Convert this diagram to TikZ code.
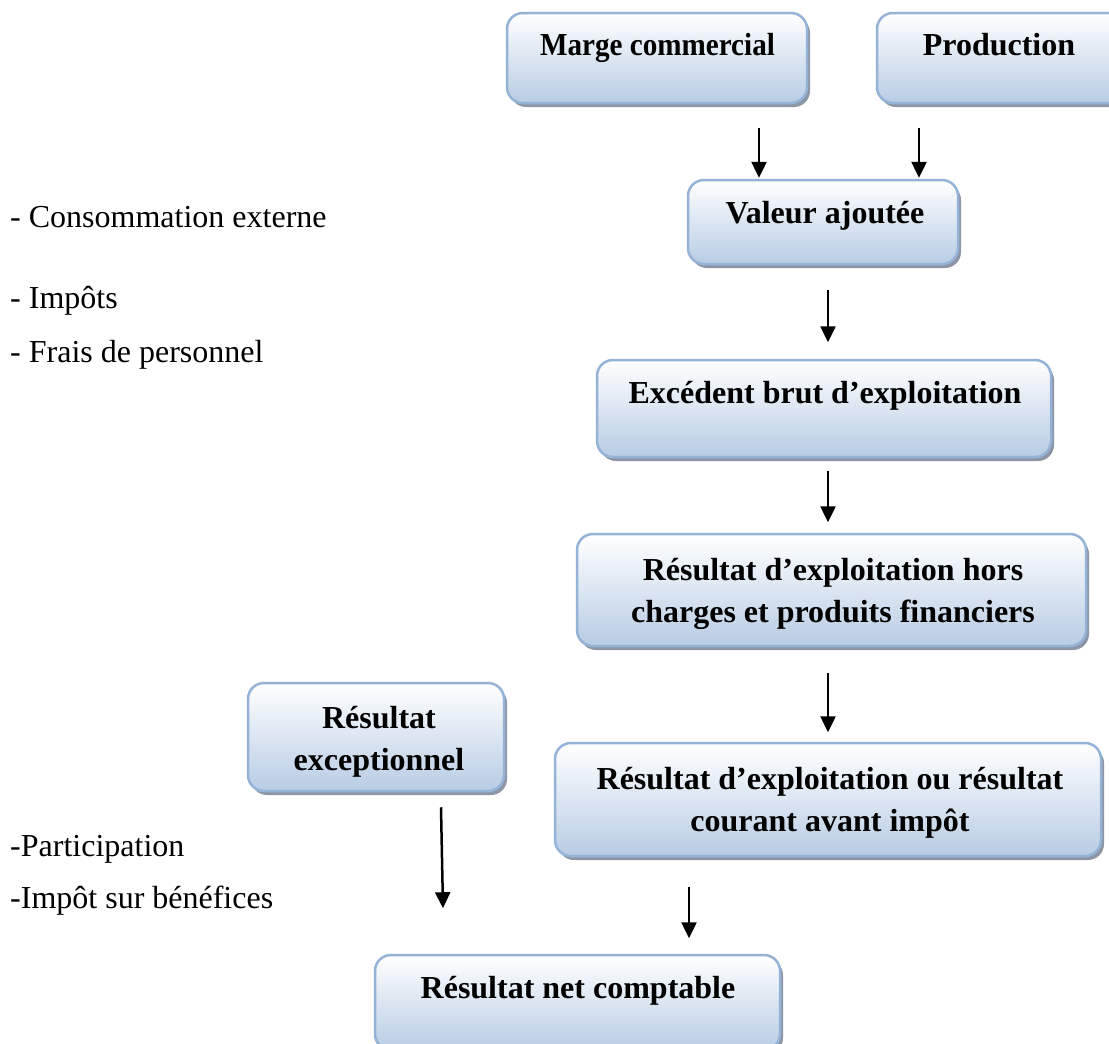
\documentclass[tikz,border=0pt]{standalone}
\usepackage{fontspec}
\setmainfont{Liberation Serif}
\usepackage{xcolor}
\usepackage{tikz}
\usetikzlibrary{positioning}
\usetikzlibrary{calc,arrows.meta}
\usetikzlibrary{shadows}

\definecolor{bordbleu}{RGB}{149,179,215}
\definecolor{fondbleu}{RGB}{184,204,228}
\definecolor{ombre}{RGB}{140,150,166}

\begin{document}
\begin{tikzpicture}[x=1bp, y=-1bp,
  boite/.style={draw=bordbleu, line width=2.5bp, rounded corners=16bp,
    top color=white, middle color=white!60!fondbleu, bottom color=fondbleu,
    drop shadow={shadow xshift=3bp, shadow yshift=-4bp, fill=ombre, opacity=1},
    inner sep=0pt},
  titre/.style={font=\fontsize{32bp}{42bp}\selectfont\bfseries, align=center,
    anchor=base, inner sep=0pt},
  liste/.style={font=\fontsize{32bp}{38bp}\selectfont, anchor=base west, inner sep=0pt},
  fleche/.style={line width=2.5bp, -{Triangle[width=15bp,length=16bp]}}]

% Page size
\clip (0,0) rectangle (1109,1044);
\fill[white] (0,0) rectangle (1109,1044);

% Draw boxes
\node[boite, minimum width=300bp, minimum height=90bp] (marge) at (657,58) {};
\node[boite, minimum width=248bp, minimum height=90bp] (prod) at (1001,58) {};
\node[boite, minimum width=270bp, minimum height=84bp] (va) at (823,222) {};
\node[boite, minimum width=454bp, minimum height=97bp] (ebe) at (824,408.5) {};
\node[boite, minimum width=509bp, minimum height=112bp] (reh) at (831.5,590) {};
\node[boite, minimum width=256bp, minimum height=108bp] (rex) at (376,737) {};
\node[boite, minimum width=546bp, minimum height=113bp] (rca) at (828,799.5) {};
\node[boite, minimum width=405bp, minimum height=95bp] (rnc) at (577.5,1002.5) {};

% Box titles (base = last line)
\node[titre] (margetxt) at (657.5,55) {\scalebox{0.91}[1]{Marge commercial}};
\node[titre] (prodtxt) at (999,55) {Production};
\node[titre] (vatxt) at (825,223) {Valeur ajoutée};
\node[titre] (ebetxt) at (825,403) {Excédent brut d’exploitation};
\node[titre] (rehtxt) at (833,622) {Résultat d’exploitation hors\\charges et produits financiers};
\node[titre] (rextxt) at (379,770) {Résultat\\exceptionnel};
\node[titre] (rcatxt) at (830,831) {Résultat d’exploitation ou résultat\\courant avant impôt};
\node[titre] (rnctxt) at (578,998) {Résultat net comptable};

% Left lists
\node[liste] (conso) at (10,227) {- Consommation externe};
\node[liste] (impots) at (10,308) {- Impôts};
\node[liste] (frais) at (10,362) {- Frais de personnel};
\node[liste] (partic) at (10,856) {-Participation};
\node[liste] (impben) at (10,908) {-Impôt sur bénéfices};

% Draw arrows
\draw[fleche] ($(va.north)+(-64,-51)$) -- ($(va.north)+(-64,-1)$);
\draw[fleche] ($(va.north)+(96,-51)$) -- ($(va.north)+(96,-1)$);
\draw[fleche] ($(va.south)+(5,25)$) -- ($(va.south)+(5,77)$);
\draw[fleche] ($(ebe.south)+(4,13)$) -- ($(ebe.south)+(4,64)$);
\draw[fleche] ($(reh.south)+(-3.5,26)$) -- ($(reh.south)+(-3.5,85)$);
\draw[fleche] ($(rex.south)+(65,15)$) -- ($(rex.south)+(67,116)$);
\draw[fleche] ($(rca.south)+(-139,30)$) -- ($(rca.south)+(-139,81)$);

\end{tikzpicture}
\end{document}
